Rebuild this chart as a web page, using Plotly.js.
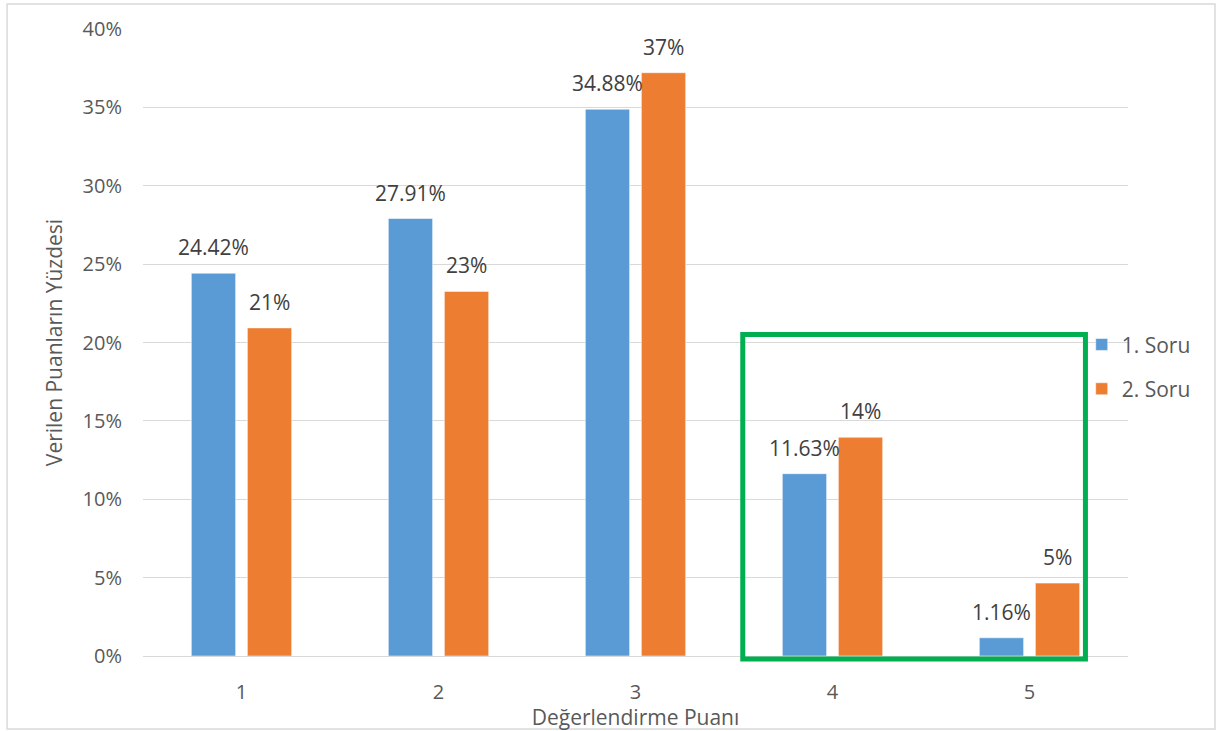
<!DOCTYPE html>
<html>
<head>
<meta charset="utf-8">
<script src="https://cdn.plot.ly/plotly-3.0.1.min.js"></script>
<style>
  html, body { margin: 0; padding: 0; background: #fff; }
  #chart { width: 1217px; height: 731px; }
</style>
</head>
<body>
<div id="chart"></div>
<script>
// ---- data ----
const categories = ['1', '2', '3', '4', '5'];
const soru1Name = '1. Soru';
const soru2Name = '2. Soru';
const soru1Values = [24.42, 27.91, 34.88, 11.63, 1.16];
const soru2Values = [20.93, 23.26, 37.21, 13.95, 4.65];
const soru1Labels = ['24.42%', '27.91%', '34.88%', '11.63%', '1.16%'];
const soru2Labels = ['21%', '23%', '37%', '14%', '5%'];
const xTitle = 'Değerlendirme Puanı';
const yTitle = 'Verilen Puanların Yüzdesi';

// ---- style ----
const FONT = '"Open Sans", "Noto Sans", sans-serif';
const TXT = '#595959';
const GRID = '#d9d9d9';
const BLUE = '#5B9BD5';
const ORANGE = '#ED7D31';
const GREEN = '#00B050';

const traces = [
  {
    type: 'bar', name: soru1Name, x: categories, y: soru1Values,
    marker: { color: BLUE, line: { color: 'rgba(255,255,255,0.5)', width: 1 } },
    legendgroup: 'a', hoverinfo: 'skip'
  },
  {
    type: 'bar', name: soru2Name, x: categories, y: soru2Values,
    marker: { color: ORANGE, line: { color: 'rgba(255,255,255,0.5)', width: 1 } },
    legendgroup: 'b', hoverinfo: 'skip'
  }
];

// data labels built from the arrays (x given as category index)
const annotations = [];
categories.forEach((c, i) => {
  annotations.push({
    x: i, y: soru1Values[i], xref: 'x', yref: 'y', text: soru1Labels[i],
    showarrow: false, xshift: -28, yshift: 26, yanchor: 'middle',
    font: { family: FONT, size: 21, color: '#404040' }
  });
  annotations.push({
    x: i, y: soru2Values[i], xref: 'x', yref: 'y', text: soru2Labels[i],
    showarrow: false, xshift: 28, yshift: 26, yanchor: 'middle',
    font: { family: FONT, size: 21, color: '#404040' }
  });
});

const layout = {
  width: 1217, height: 731,
  margin: { l: 143, r: 89, t: 29, b: 75, autoexpand: false },
  paper_bgcolor: '#ffffff', plot_bgcolor: '#ffffff',
  font: { family: FONT, color: TXT, size: 20 },
  barmode: 'group', bargap: 0.431, bargroupgap: 0.21,
  showlegend: true,
  legend: {
    x: 0.953, xanchor: 'left', y: 0.529, yanchor: 'top',
    bgcolor: 'rgba(255,255,255,0)', borderwidth: 0,
    font: { family: FONT, size: 21, color: TXT },
    traceorder: 'grouped', tracegroupgap: 14, itemwidth: 30
  },
  xaxis: {
    type: 'category', range: [-0.5, 4.5], autorange: false,
    showgrid: false, showline: true, linecolor: GRID, linewidth: 1,
    ticks: '', ticklabelstandoff: 18, tickfont: { family: FONT, size: 20, color: TXT },
    title: { text: xTitle, font: { family: FONT, size: 21, color: TXT }, standoff: 0 },
    automargin: false, fixedrange: true
  },
  yaxis: {
    range: [0, 40], autorange: false, dtick: 5, tick0: 0, ticksuffix: '%',
    showgrid: true, gridcolor: GRID, gridwidth: 1,
    zeroline: true, zerolinecolor: GRID, zerolinewidth: 1,
    showline: false, ticks: '', ticklabelstandoff: 20,
    tickfont: { family: FONT, size: 20, color: TXT },
    title: { text: yTitle, font: { family: FONT, size: 21, color: TXT }, standoff: 14 },
    automargin: false, fixedrange: true
  },
  shapes: [
    // chart outer border
    { type: 'rect', xref: 'paper', yref: 'paper', x0: -0.138, x1: 1.0883, y0: -0.1164, y1: 1.0399,
      line: { color: '#d9d9d9', width: 1.5 }, fillcolor: 'rgba(0,0,0,0)', layer: 'below' },
    // green highlight box around scores 4 and 5
    { type: 'rect', xref: 'paper', yref: 'paper', x0: 0.6089, x1: 0.9568, y0: -0.0048, y1: 0.5128,
      line: { color: GREEN, width: 5 }, fillcolor: 'rgba(0,0,0,0)', layer: 'above' }
  ],
  annotations: annotations
};

Plotly.newPlot('chart', traces, layout, { displayModeBar: false, staticPlot: true });
</script>
</body>
</html>
